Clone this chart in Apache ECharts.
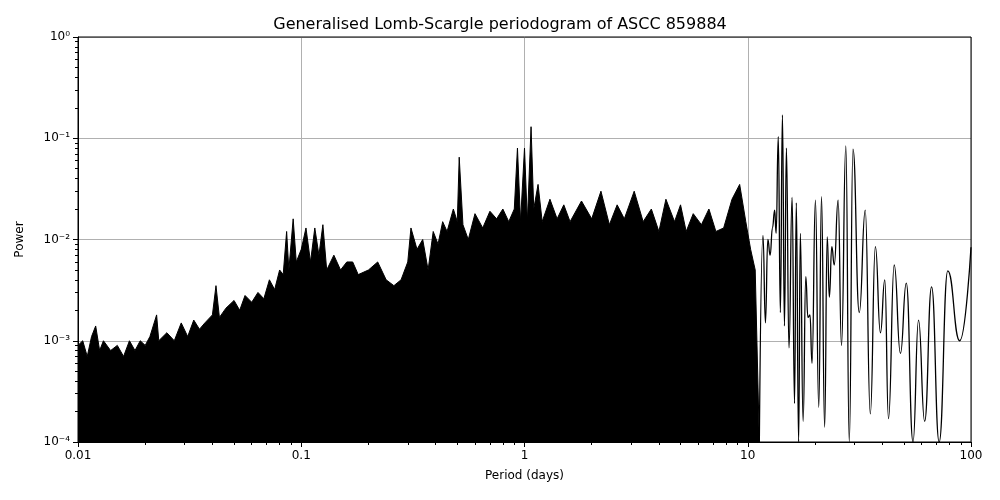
<!DOCTYPE html>
<html>
<head>
<meta charset="utf-8">
<title>Generalised Lomb-Scargle periodogram</title>
<script src="https://cdn.jsdelivr.net/npm/echarts@6/dist/echarts.min.js"></script>
<style>
    * { margin: 0; padding: 0; }
    #main { width: 1000px; height: 500px; }
</style>
</head>
<body>
<div id="main"></div>
<script>
    // upper envelope of the dense short-period part [period, power]
    var envelope = [
        [0.01,9e-4],[0.0105,1e-3],[0.011,7e-4],[0.0115,1.1e-3],[0.012,1.4e-3],[0.0125,8e-4],[0.013,1e-3],
        [0.014,8e-4],[0.015,9e-4],[0.016,7e-4],[0.017,1e-3],[0.018,8e-4],[0.019,1e-3],[0.02,9e-4],
        [0.021,1.1e-3],[0.0225,1.8e-3],[0.023,1e-3],[0.025,1.2e-3],[0.027,1e-3],[0.029,1.5e-3],
        [0.031,1.1e-3],[0.033,1.6e-3],[0.035,1.3e-3],[0.037,1.5e-3],[0.04,1.8e-3],[0.0415,3.5e-3],
        [0.043,1.7e-3],[0.046,2.1e-3],[0.05,2.5e-3],[0.053,2e-3],[0.056,2.8e-3],[0.06,2.4e-3],
        [0.064,3e-3],[0.068,2.6e-3],[0.072,4e-3],[0.076,3.2e-3],[0.08,5e-3],[0.083,4.5e-3],
        [0.086,1.2e-2],[0.088,5e-3],[0.092,1.6e-2],[0.095,6e-3],[0.1,8e-3],[0.105,1.3e-2],[0.11,6e-3],
        [0.115,1.3e-2],[0.12,7e-3],[0.125,1.4e-2],[0.13,5e-3],[0.14,7e-3],[0.15,5e-3],[0.16,6e-3],
        [0.17,6e-3],[0.18,4.5e-3],[0.2,5e-3],[0.22,6e-3],[0.24,4e-3],[0.26,3.5e-3],[0.28,4e-3],
        [0.3,6e-3],[0.31,1.3e-2],[0.33,8e-3],[0.35,1e-2],[0.37,5e-3],[0.39,1.2e-2],[0.41,9e-3],
        [0.43,1.5e-2],[0.45,1.2e-2],[0.48,2e-2],[0.5,1.5e-2],[0.51,6.5e-2],[0.53,1.4e-2],[0.56,1e-2],
        [0.6,1.8e-2],[0.65,1.3e-2],[0.7,1.9e-2],[0.75,1.6e-2],[0.8,2e-2],[0.85,1.5e-2],[0.9,2e-2],
        [0.93,8e-2],[0.96,1.5e-2],[1.0,8e-2],[1.03,1.5e-2],[1.07,0.13],[1.1,2e-2],[1.15,3.5e-2],
        [1.2,1.5e-2],[1.3,2.5e-2],[1.4,1.6e-2],[1.5,2.2e-2],[1.6,1.5e-2],[1.8,2.4e-2],[2.0,1.6e-2],
        [2.2,3e-2],[2.4,1.4e-2],[2.6,2.2e-2],[2.8,1.6e-2],[3.1,3e-2],[3.4,1.5e-2],[3.7,2e-2],
        [4.0,1.2e-2],[4.3,2.5e-2],[4.7,1.5e-2],[5.0,2.2e-2],[5.3,1.2e-2],[5.7,1.8e-2],[6.2,1.4e-2],
        [6.7,2e-2],[7.2,1.2e-2],[7.8,1.3e-2],[8.5,2.5e-2],[9.2,3.5e-2],[9.8,1.5e-2],[10.3,8e-3],
        [10.8,5e-3],[11.27,1e-4]
    ];
    // resolved long-period peaks [period, power]
    var longPeriod = [
        [11.27,1e-4],[11.7,0.011],[12.0,1.5e-3],[12.3,0.01],[12.6,7e-3],[12.9,0.013],[13.2,0.0195],
        [13.4,0.0115],[13.7,0.104],[14.0,1.9e-3],[14.3,0.17],[14.6,1.4e-3],[14.9,0.08],[15.3,8.5e-4],
        [15.8,0.026],[16.2,2.4e-4],[16.5,0.023],[16.9,1e-4],[17.2,0.0115],[17.7,1.6e-4],[18.2,4.3e-3],
        [18.6,1.7e-3],[19.0,1.8e-3],[19.4,6e-4],[20.1,0.0245],[20.8,2.2e-4],[21.4,0.0265],[22.1,1.4e-4],
        [22.7,0.0106],[23.2,2.7e-3],[23.8,8.5e-3],[24.4,5.6e-3],[25.4,0.0245],[26.3,9e-4],[27.5,0.084],
        [28.5,1e-4],[29.6,0.078],[31.6,1.9e-3],[33.6,0.0195],[35.4,1.9e-4],[37.3,8.5e-3],[39.3,1.2e-3],
        [41.1,4e-3],[42.7,1.7e-4],[45.3,5.6e-3],[48.3,7.5e-4],[51.3,3.7e-3],[55.0,1e-4],[58.2,1.6e-3],
        [62.0,1.6e-4],[66.6,3.4e-3],[72.0,1e-4],[78.7,4.9e-3],[89.0,1e-3],[100,8.4e-3]
    ];
    var xTicks = [0.01, 0.1, 1, 10, 100];
    var yTickLabels = {'0.0001': '10\u207B\u2074', '0.001': '10\u207B\u00B3', '0.01': '10\u207B\u00B2',
        '0.1': '10\u207B\u00B9', '1': '10\u2070'};

    var chart = echarts.init(document.getElementById('main'));
    var axisText = {color: '#000', fontSize: 12, fontFamily: 'DejaVu Sans'};
    chart.setOption({
        animation: false,
        title: {
            text: 'Generalised Lomb-Scargle periodogram of ASCC 859884',
            left: 'center', top: 12,
            textStyle: {fontSize: 16, fontWeight: 'normal', color: '#000', fontFamily: 'DejaVu Sans'}
        },
        grid: {left: 78, right: 29, top: 37, bottom: 58},
        xAxis: {
            type: 'log', min: 0.01, max: 100, logBase: 10,
            name: 'Period (days)', nameLocation: 'middle', nameGap: 28,
            nameTextStyle: axisText,
            axisLine: {lineStyle: {color: '#000'}},
            axisTick: {inside: false, length: 5, lineStyle: {color: '#000'}},
            minorTick: {show: true, splitNumber: 9, length: 3, lineStyle: {color: '#000'}},
            axisLabel: Object.assign({margin: 8, formatter: function (v) {
                for (var i = 0; i < xTicks.length; i++) {
                    if (Math.abs(v / xTicks[i] - 1) < 1e-6) return String(xTicks[i]);
                }
                return '';
            }}, axisText),
            splitLine: {show: true, lineStyle: {color: '#b0b0b0'}}
        },
        yAxis: {
            type: 'log', min: 1e-4, max: 1, logBase: 10,
            name: 'Power', nameLocation: 'middle', nameGap: 52, nameRotate: 90,
            nameTextStyle: axisText,
            axisLine: {show: true, lineStyle: {color: '#000'}},
            axisTick: {show: true, length: 5, lineStyle: {color: '#000'}},
            minorTick: {show: true, splitNumber: 9, length: 3, lineStyle: {color: '#000'}},
            axisLabel: Object.assign({formatter: function (v) {
                var k = String(Number(v.toPrecision(3)));
                return yTickLabels[k] || '';
            }}, axisText),
            splitLine: {show: true, lineStyle: {color: '#b0b0b0'}}
        },
        series: [
            {
                type: 'line', data: envelope, symbol: 'none',
                lineStyle: {color: '#000', width: 1},
                areaStyle: {color: '#000', opacity: 1, origin: 'start'}
            },
            {
                type: 'line', data: longPeriod, symbol: 'none', smooth: 0.5, smoothMonotone: 'x',
                lineStyle: {color: '#000', width: 1.3}
            }
        ],
        graphic: [{type: 'rect', shape: {x: 78, y: 37, width: 893, height: 405},
            style: {fill: 'none', stroke: '#000', lineWidth: 1}, z: 100}]
    });
</script>
</body>
</html>
